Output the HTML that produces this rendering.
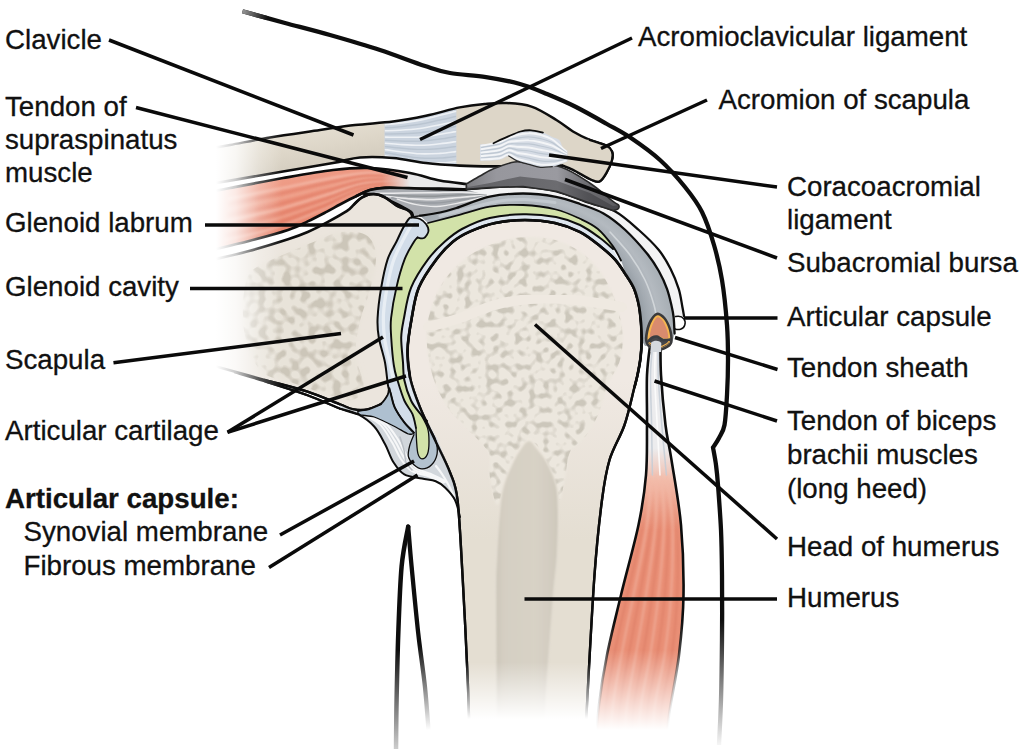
<!DOCTYPE html>
<html lang="en">
<head>
<meta charset="utf-8">
<title>Shoulder joint</title>
<style>
html,body{margin:0;padding:0;background:#fff;}
body{width:1024px;height:749px;overflow:hidden;position:relative;font-family:"Liberation Sans",Arial,Helvetica,sans-serif;}
svg{position:absolute;left:0;top:0;display:block;}
text{font-family:"Liberation Sans",Arial,Helvetica,sans-serif;font-size:27.7px;fill:#111;stroke:#111;stroke-width:0.3px;}
.b{font-weight:bold;}
.ld line{stroke:#0a0a0a;stroke-width:3.5;stroke-linecap:butt;}
</style>
</head>
<body>
<svg width="1024" height="749" viewBox="0 0 1024 749">
<defs>
<linearGradient id="fadeB" gradientUnits="userSpaceOnUse" x1="0" y1="662" x2="0" y2="719">
<stop offset="0" stop-color="#fff" stop-opacity="0"/><stop offset="1" stop-color="#fff" stop-opacity="1"/></linearGradient>
<linearGradient id="fadeB2" gradientUnits="userSpaceOnUse" x1="0" y1="650" x2="0" y2="730">
<stop offset="0" stop-color="#fff" stop-opacity="0"/><stop offset="1" stop-color="#fff" stop-opacity="1"/></linearGradient>
<linearGradient id="fadeL" gradientUnits="userSpaceOnUse" x1="216" y1="0" x2="282" y2="0">
<stop offset="0" stop-color="#fff" stop-opacity="1"/><stop offset="0.3" stop-color="#fff" stop-opacity="0.78"/><stop offset="0.65" stop-color="#fff" stop-opacity="0.3"/><stop offset="1" stop-color="#fff" stop-opacity="0"/></linearGradient>
<linearGradient id="skinG" gradientUnits="userSpaceOnUse" x1="242" y1="11" x2="268" y2="18">
<stop offset="0" stop-color="#999"/><stop offset="1" stop-color="#0d0d0d"/></linearGradient>
<linearGradient id="lineFade2" gradientUnits="userSpaceOnUse" x1="0" y1="620" x2="0" y2="750">
<stop offset="0" stop-color="#0d0d0d"/><stop offset="1" stop-color="#0d0d0d" stop-opacity="0"/></linearGradient>
<linearGradient id="medG" gradientUnits="userSpaceOnUse" x1="494" y1="0" x2="562" y2="0">
<stop offset="0" stop-color="#cbc5b8"/><stop offset="0.15" stop-color="#d5cfc3"/><stop offset="0.6" stop-color="#d8d2c6"/><stop offset="0.85" stop-color="#d2ccc0"/><stop offset="1" stop-color="#cac4b7"/></linearGradient>
<linearGradient id="musG" gradientUnits="userSpaceOnUse" x1="300" y1="170" x2="320" y2="235">
<stop offset="0" stop-color="#ef9f8a"/><stop offset="0.5" stop-color="#ea8e77"/><stop offset="1" stop-color="#e5826a"/></linearGradient>
<linearGradient id="bicG" gradientUnits="userSpaceOnUse" x1="0" y1="448" x2="0" y2="530">
<stop offset="0" stop-color="#ececee"/><stop offset="0.4" stop-color="#f2bba9"/><stop offset="1" stop-color="#e98f76"/></linearGradient>
<filter id="spg" x="0" y="0" width="100%" height="100%" color-interpolation-filters="sRGB">
<feTurbulence type="fractalNoise" baseFrequency="0.14" numOctaves="1" seed="11" result="n"/>
<feColorMatrix in="n" type="matrix" values="0 0 0 0 0.80  0 0 0 0 0.78  0 0 0 0 0.735  5.5 0 0 0 -2.7" result="b"/>
<feGaussianBlur in="b" stdDeviation="0.45"/>
<feComposite in2="SourceGraphic" operator="in"/>
</filter>
<filter id="spg2" x="0" y="0" width="100%" height="100%" color-interpolation-filters="sRGB">
<feTurbulence type="fractalNoise" baseFrequency="0.12" numOctaves="1" seed="3" result="n"/>
<feColorMatrix in="n" type="matrix" values="0 0 0 0 0.80  0 0 0 0 0.775  0 0 0 0 0.725  5.5 0 0 0 -2.5" result="b"/>
<feGaussianBlur in="b" stdDeviation="0.5"/>
<feComposite in2="SourceGraphic" operator="in"/>
</filter>
<linearGradient id="dkS" gradientUnits="userSpaceOnUse" x1="0" y1="490" x2="0" y2="550"><stop offset="0" stop-color="#d36f58" stop-opacity="0"/><stop offset="1" stop-color="#d36f58"/></linearGradient>
<linearGradient id="burL" gradientUnits="userSpaceOnUse" x1="466" y1="0" x2="618" y2="0"><stop offset="0" stop-color="#7c7c80"/><stop offset="0.2" stop-color="#97979d"/><stop offset="0.6" stop-color="#9a9aa0"/><stop offset="0.78" stop-color="#707074"/><stop offset="1" stop-color="#5a5a5e"/></linearGradient>
<linearGradient id="burD" gradientUnits="userSpaceOnUse" x1="466" y1="0" x2="618" y2="0"><stop offset="0" stop-color="#626266"/><stop offset="0.6" stop-color="#6c6c70"/><stop offset="0.8" stop-color="#525256"/><stop offset="1" stop-color="#48484c"/></linearGradient>
<linearGradient id="vL" gradientUnits="userSpaceOnUse" x1="0" y1="650" x2="0" y2="775"><stop offset="0" stop-color="#0d0d0d"/><stop offset="1" stop-color="#0d0d0d" stop-opacity="0"/></linearGradient>
<linearGradient id="vR" gradientUnits="userSpaceOnUse" x1="0" y1="645" x2="0" y2="730"><stop offset="0" stop-color="#0d0d0d"/><stop offset="1" stop-color="#0d0d0d" stop-opacity="0"/></linearGradient>
<filter id="blur05"><feGaussianBlur stdDeviation="0.5"/></filter>
<filter id="blur1"><feGaussianBlur stdDeviation="1.2"/></filter>
<filter id="blur2"><feGaussianBlur stdDeviation="2.5"/></filter>

<linearGradient id="clG" gradientUnits="userSpaceOnUse" x1="296" y1="130" x2="304" y2="172"><stop offset="0" stop-color="#e5dfd2"/><stop offset="0.5" stop-color="#ddd6c8"/><stop offset="1" stop-color="#d3ccbe"/></linearGradient>
<linearGradient id="mt" gradientUnits="userSpaceOnUse" x1="382" y1="0" x2="410" y2="0"><stop offset="0" stop-color="#ecdcd8" stop-opacity="0"/><stop offset="1" stop-color="#e9e9ea" stop-opacity="1"/></linearGradient>
<linearGradient id="humG" gradientUnits="userSpaceOnUse" x1="0" y1="380" x2="0" y2="540"><stop offset="0" stop-color="#f0e9e3"/><stop offset="1" stop-color="#e4ded2"/></linearGradient>
<radialGradient id="capG" gradientUnits="userSpaceOnUse" cx="524.5" cy="335" r="160"><stop offset="0.72" stop-color="#8f979e"/><stop offset="0.78" stop-color="#a3aab1"/><stop offset="0.85" stop-color="#b4bac0"/><stop offset="0.92" stop-color="#a9b0b6"/><stop offset="1" stop-color="#9da4ab"/></radialGradient>
</defs>
<rect width="1024" height="749" fill="#fff"/>
<path d="M210.0 148.5 C213.3 147.9 220.0 146.8 230.0 145.0 C240.0 143.2 255.0 139.9 270.0 137.4 C285.0 134.9 305.8 132.1 320.0 130.0 C334.2 127.9 342.8 126.4 355.0 125.0 C367.2 123.6 381.2 123.0 393.0 121.5 C404.8 120.0 414.9 118.0 426.0 115.7 C437.1 113.4 449.9 109.4 459.7 107.4 C469.5 105.5 476.9 104.7 484.6 104.0 C492.3 103.3 498.2 102.6 506.0 103.0 C513.8 103.4 523.1 103.8 531.5 106.6 C539.9 109.4 549.5 115.8 556.4 120.0 C563.3 124.2 567.5 128.2 573.0 131.5 C578.5 134.8 584.2 137.5 589.7 139.8 C595.2 142.2 602.6 143.7 606.3 145.6 C610.0 147.5 611.0 149.1 612.0 151.5 C613.0 153.9 613.0 156.4 612.0 160.0 C611.0 163.6 608.4 169.4 606.3 173.0 C604.2 176.6 602.1 180.3 599.6 181.4 C597.1 182.5 595.7 181.6 591.3 179.7 C586.9 177.8 577.7 172.0 573.0 169.7 C568.3 167.3 564.7 166.3 563.0 165.6 C563.0 165.6 568.5 165.5 563.0 165.6 C557.5 165.7 541.7 165.9 530.0 166.0 C518.3 166.1 504.7 166.5 493.0 166.4 C481.3 166.3 470.9 166.2 459.7 165.6 C448.5 165.0 437.1 164.3 426.0 163.0 C414.9 161.7 404.0 158.9 393.0 158.0 C382.0 157.1 370.0 156.7 360.0 157.5 C350.0 158.3 345.8 160.7 333.0 163.0 C320.2 165.3 300.2 168.6 283.0 171.5 C265.8 174.4 242.2 178.5 230.0 180.6 C217.8 182.7 213.3 183.4 210.0 184.0Z" fill="#ddd6c8"/>
<path d="M205.0 150.0 L210.0 148.5 L230.0 145.0 L270.0 137.4 L320.0 130.0 L355.0 125.0 L393.0 121.5 L385.0 122.5 L385.0 158.0 L393.0 158.0 L360.0 157.5 L333.0 163.0 L283.0 171.5 L230.0 180.6 L210.0 184.0 L205.0 186.0Z" fill="url(#clG)"/>
<path d="M384.5 122.6 L393.5 121.4 L417.0 117.3 L440.5 111.5 L456.4 107.9 L456.4 165.0 L440.5 164.3 L417.0 162.0 L393.5 158.5 L384.5 157.8Z" fill="#cbd4df" filter="url(#blur05)"/>
<path d="M385.5 124.6 C387.9 124.4 394.2 123.9 400.0 123.1 C405.8 122.4 413.3 121.4 420.0 120.1 C426.7 118.8 434.1 116.7 440.0 115.3 C445.9 113.9 452.9 112.2 455.5 111.5" fill="none" stroke="#f2f5f8" stroke-width="1.6" stroke-linejoin="round" stroke-linecap="round" opacity="0.9" filter="url(#blur05)"/>
<path d="M385.5 127.7 C387.9 127.6 394.2 127.2 400.0 126.7 C405.8 126.1 413.3 125.4 420.0 124.3 C426.7 123.2 434.1 121.3 440.0 120.1 C445.9 118.8 452.9 117.1 455.5 116.5" fill="none" stroke="#b9c4d0" stroke-width="1.5" stroke-linejoin="round" stroke-linecap="round" opacity="0.9" filter="url(#blur05)"/>
<path d="M385.5 130.8 C387.9 130.7 394.2 130.6 400.0 130.2 C405.8 129.9 413.3 129.4 420.0 128.5 C426.7 127.6 434.1 126.0 440.0 124.8 C445.9 123.6 452.9 122.1 455.5 121.5" fill="none" stroke="#f2f5f8" stroke-width="1.6" stroke-linejoin="round" stroke-linecap="round" opacity="0.9" filter="url(#blur05)"/>
<path d="M385.5 134.0 C387.9 133.9 394.2 134.0 400.0 133.8 C405.8 133.6 413.3 133.5 420.0 132.7 C426.7 132.0 434.1 130.6 440.0 129.6 C445.9 128.5 452.9 127.1 455.5 126.6" fill="none" stroke="#b9c4d0" stroke-width="1.5" stroke-linejoin="round" stroke-linecap="round" opacity="0.9" filter="url(#blur05)"/>
<path d="M385.5 137.1 C387.9 137.1 394.2 137.4 400.0 137.4 C405.8 137.4 413.3 137.5 420.0 137.0 C426.7 136.5 434.1 135.2 440.0 134.3 C445.9 133.4 452.9 132.0 455.5 131.6" fill="none" stroke="#f2f5f8" stroke-width="1.6" stroke-linejoin="round" stroke-linecap="round" opacity="0.9" filter="url(#blur05)"/>
<path d="M385.5 140.2 C387.9 140.3 394.2 140.8 400.0 141.0 C405.8 141.1 413.3 141.5 420.0 141.2 C426.7 140.9 434.1 139.9 440.0 139.1 C445.9 138.3 452.9 137.0 455.5 136.6" fill="none" stroke="#b9c4d0" stroke-width="1.5" stroke-linejoin="round" stroke-linecap="round" opacity="0.9" filter="url(#blur05)"/>
<path d="M385.5 143.3 C387.9 143.5 394.2 144.2 400.0 144.5 C405.8 144.9 413.3 145.5 420.0 145.4 C426.7 145.3 434.1 144.5 440.0 143.8 C445.9 143.2 452.9 142.0 455.5 141.6" fill="none" stroke="#f2f5f8" stroke-width="1.6" stroke-linejoin="round" stroke-linecap="round" opacity="0.9" filter="url(#blur05)"/>
<path d="M385.5 146.5 C387.9 146.7 394.2 147.6 400.0 148.1 C405.8 148.6 413.3 149.5 420.0 149.6 C426.7 149.7 434.1 149.1 440.0 148.6 C445.9 148.1 452.9 146.9 455.5 146.6" fill="none" stroke="#b9c4d0" stroke-width="1.5" stroke-linejoin="round" stroke-linecap="round" opacity="0.9" filter="url(#blur05)"/>
<path d="M385.5 149.6 C387.9 149.9 394.2 150.9 400.0 151.7 C405.8 152.4 413.3 153.6 420.0 153.8 C426.7 154.1 434.1 153.7 440.0 153.4 C445.9 153.0 452.9 151.9 455.5 151.6" fill="none" stroke="#f2f5f8" stroke-width="1.6" stroke-linejoin="round" stroke-linecap="round" opacity="0.9" filter="url(#blur05)"/>
<path d="M385.5 152.7 C387.9 153.1 394.2 154.3 400.0 155.2 C405.8 156.1 413.3 157.6 420.0 158.1 C426.7 158.5 434.1 158.4 440.0 158.1 C445.9 157.9 452.9 156.9 455.5 156.6" fill="none" stroke="#b9c4d0" stroke-width="1.5" stroke-linejoin="round" stroke-linecap="round" opacity="0.9" filter="url(#blur05)"/>
<path d="M385.5 155.8 C387.9 156.3 394.2 157.7 400.0 158.8 C405.8 159.9 413.3 161.6 420.0 162.3 C426.7 163.0 434.1 163.0 440.0 162.9 C445.9 162.8 452.9 161.8 455.5 161.6" fill="none" stroke="#f2f5f8" stroke-width="1.6" stroke-linejoin="round" stroke-linecap="round" opacity="0.9" filter="url(#blur05)"/>
<path d="M210.0 148.5 C213.3 147.9 220.0 146.8 230.0 145.0 C240.0 143.2 255.0 139.9 270.0 137.4 C285.0 134.9 305.8 132.1 320.0 130.0 C334.2 127.9 342.8 126.4 355.0 125.0 C367.2 123.6 381.2 123.0 393.0 121.5 C404.8 120.0 414.9 118.0 426.0 115.7 C437.1 113.4 449.9 109.4 459.7 107.4 C469.5 105.5 476.9 104.7 484.6 104.0 C492.3 103.3 498.2 102.6 506.0 103.0 C513.8 103.4 523.1 103.8 531.5 106.6 C539.9 109.4 549.5 115.8 556.4 120.0 C563.3 124.2 567.5 128.2 573.0 131.5 C578.5 134.8 584.2 137.5 589.7 139.8 C595.2 142.2 602.6 143.7 606.3 145.6 C610.0 147.5 611.0 149.1 612.0 151.5 C613.0 153.9 613.0 156.4 612.0 160.0 C611.0 163.6 608.4 169.4 606.3 173.0 C604.2 176.6 602.1 180.3 599.6 181.4 C597.1 182.5 595.7 181.6 591.3 179.7 C586.9 177.8 577.7 172.0 573.0 169.7 C568.3 167.3 564.7 166.3 563.0 165.6" fill="none" stroke="#0d0d0d" stroke-width="2.5" stroke-linejoin="round" stroke-linecap="round"/>
<path d="M210.0 184.0 C213.3 183.4 217.8 182.7 230.0 180.6 C242.2 178.5 265.8 174.4 283.0 171.5 C300.2 168.6 320.2 165.3 333.0 163.0 C345.8 160.7 350.0 158.3 360.0 157.5 C370.0 156.7 382.0 157.1 393.0 158.0 C404.0 158.9 414.9 161.7 426.0 163.0 C437.1 164.3 448.5 165.0 459.7 165.6 C470.9 166.2 481.3 166.3 493.0 166.4 C504.7 166.5 518.3 166.1 530.0 166.0 C541.7 165.9 557.5 165.7 563.0 165.6" fill="none" stroke="#0d0d0d" stroke-width="2.6" stroke-linejoin="round" stroke-linecap="round"/>
<path d="M212.0 191.5 C215.0 190.9 218.2 190.2 230.0 188.0 C241.8 185.8 265.8 181.0 283.0 178.0 C300.2 175.0 318.5 171.7 333.0 170.0 C347.5 168.3 357.2 167.5 370.0 168.0 C382.8 168.5 403.3 172.2 410.0 173.0 C410.0 175.7 414.2 186.5 410.0 189.0 C405.8 191.5 391.7 187.6 385.0 187.8 C378.3 188.0 374.8 188.6 370.0 190.0 C365.2 191.4 361.5 193.6 356.5 196.0 C351.5 198.4 344.9 201.9 340.0 204.5 C335.1 207.1 332.4 208.8 327.0 211.6 C321.6 214.4 314.2 218.3 307.7 221.4 C301.2 224.5 297.8 226.7 288.0 230.0 C278.2 233.3 261.7 237.7 249.0 241.0 C236.3 244.3 218.2 248.5 212.0 250.0Z" fill="url(#musG)"/>
<path d="M229.1 198.6 C237.7 196.9 263.7 191.8 280.7 188.4 C297.6 185.0 316.2 180.8 330.7 178.2 C345.1 175.6 356.0 173.6 367.6 173.0 C379.1 172.5 394.6 174.6 400.0 174.9" fill="none" stroke="#f4b9a8" stroke-width="3" stroke-linejoin="round" stroke-linecap="round" opacity="0.8" filter="url(#blur1)"/>
<path d="M228.2 209.2 C236.6 207.5 261.6 202.7 278.3 198.9 C295.0 195.1 313.9 189.8 328.3 186.4 C342.8 182.9 353.2 179.5 365.1 178.1 C377.1 176.6 394.2 177.8 400.0 177.8" fill="none" stroke="#f0a893" stroke-width="2.5" stroke-linejoin="round" stroke-linecap="round" opacity="0.8" filter="url(#blur1)"/>
<path d="M227.2 220.4 C235.3 218.7 259.4 214.1 275.9 209.9 C292.3 205.7 311.4 199.4 325.9 195.0 C340.3 190.6 350.2 185.8 362.6 183.4 C374.9 181.0 393.8 181.2 400.0 180.8" fill="none" stroke="#f3b5a3" stroke-width="3" stroke-linejoin="round" stroke-linecap="round" opacity="0.8" filter="url(#blur1)"/>
<path d="M226.4 230.5 C234.3 228.7 257.4 224.4 273.6 219.8 C289.8 215.1 309.2 208.0 323.6 202.8 C338.1 197.5 347.6 191.4 360.3 188.2 C373.0 185.0 393.4 184.3 400.0 183.5" fill="none" stroke="#efa38d" stroke-width="2.5" stroke-linejoin="round" stroke-linecap="round" opacity="0.8" filter="url(#blur1)"/>
<path d="M225.6 239.9 C233.3 238.1 255.6 234.0 271.6 229.0 C287.6 224.1 307.1 216.1 321.6 210.0 C336.0 204.0 345.0 196.6 358.1 192.6 C371.2 188.6 393.0 187.2 400.0 186.1" fill="none" stroke="#f2b09d" stroke-width="2" stroke-linejoin="round" stroke-linecap="round" opacity="0.8" filter="url(#blur1)"/>
<path d="M228.7 203.9 C237.1 202.2 262.7 197.3 279.5 193.7 C296.3 190.1 315.0 185.3 329.5 182.3 C344.0 179.3 354.6 176.6 366.4 175.6 C378.1 174.6 394.4 176.2 400.0 176.3" fill="none" stroke="#d9705a" stroke-width="2.0" stroke-linejoin="round" stroke-linecap="round" opacity="0.45" filter="url(#blur1)"/>
<path d="M227.7 215.1 C235.9 213.4 260.5 208.7 277.0 204.7 C293.6 200.6 312.6 194.9 327.0 190.9 C341.5 187.0 351.6 182.8 363.8 180.9 C376.0 179.0 394.0 179.6 400.0 179.4" fill="none" stroke="#d9705a" stroke-width="2.0" stroke-linejoin="round" stroke-linecap="round" opacity="0.45" filter="url(#blur1)"/>
<path d="M226.8 225.8 C234.8 224.0 258.4 219.6 274.7 215.1 C291.0 210.7 310.2 204.0 324.7 199.1 C339.1 194.3 348.8 188.7 361.4 185.9 C373.9 183.1 393.6 182.9 400.0 182.2" fill="none" stroke="#d9705a" stroke-width="2.0" stroke-linejoin="round" stroke-linecap="round" opacity="0.45" filter="url(#blur1)"/>
<path d="M226.0 235.2 C233.8 233.4 256.5 229.2 272.6 224.4 C288.7 219.6 308.2 212.1 322.6 206.4 C337.0 200.7 346.3 194.0 359.2 190.4 C372.1 186.8 393.2 185.7 400.0 184.8" fill="none" stroke="#d9705a" stroke-width="2.0" stroke-linejoin="round" stroke-linecap="round" opacity="0.45" filter="url(#blur1)"/>
<path d="M380.0 168.5 L410.0 173.0 L439.7 180.5 L466.3 184.0 L466.3 189.5 L440.0 188.5 L410.0 188.8 L385.0 188.0 L372.0 189.5Z" fill="url(#mt)"/>
<path d="M212.0 191.5 C215.0 190.9 218.2 190.2 230.0 188.0 C241.8 185.8 265.8 181.0 283.0 178.0 C300.2 175.0 318.5 171.7 333.0 170.0 C347.5 168.3 357.2 167.5 370.0 168.0 C382.8 168.5 398.4 170.9 410.0 173.0 C421.6 175.1 430.3 178.7 439.7 180.5 C449.1 182.3 461.9 183.4 466.3 184.0" fill="none" stroke="#0d0d0d" stroke-width="2.7" stroke-linejoin="round" stroke-linecap="round"/>
<path d="M466.3 189.6 C461.9 189.4 449.4 188.7 440.0 188.6 C430.6 188.5 419.2 189.1 410.0 189.0 C400.8 188.9 391.7 187.6 385.0 187.8 C378.3 188.0 374.8 188.6 370.0 190.0 C365.2 191.4 361.5 193.6 356.5 196.0 C351.5 198.4 344.9 201.9 340.0 204.5 C335.1 207.1 332.4 208.8 327.0 211.6 C321.6 214.4 314.2 218.3 307.7 221.4 C301.2 224.5 297.8 226.7 288.0 230.0 C278.2 233.3 261.7 237.7 249.0 241.0 C236.3 244.3 218.2 248.5 212.0 250.0" fill="none" stroke="#0d0d0d" stroke-width="2.7" stroke-linejoin="round" stroke-linecap="round"/>
<path d="M212.0 260.0 C218.2 258.5 236.3 254.4 249.0 251.0 C261.7 247.6 278.2 242.5 288.0 239.3 C297.8 236.1 301.2 234.8 307.7 232.0 C314.2 229.2 320.5 225.9 327.0 222.4 C333.5 218.9 342.2 214.2 346.7 211.2 C351.2 208.2 351.5 206.8 354.0 204.5 C356.5 202.2 358.5 199.3 361.8 197.6 C365.0 195.8 369.6 194.0 373.5 194.0 C377.4 194.0 381.3 195.6 385.2 197.6 C389.2 199.6 393.5 203.8 397.0 205.8 C400.5 207.8 404.1 208.2 406.4 209.4 C408.7 210.6 410.0 211.7 411.0 212.9 C412.0 214.1 412.1 215.8 412.3 216.4 C411.7 216.8 410.4 216.7 408.8 218.8 C407.1 220.8 404.6 225.2 402.5 229.0 C400.4 232.8 398.9 236.7 396.4 241.8 C393.9 246.8 390.1 251.8 387.6 259.4 C385.1 267.0 382.9 277.8 381.2 287.6 C379.5 297.4 378.0 309.7 377.6 318.0 C377.2 326.3 377.5 330.1 378.8 337.5 C380.0 344.9 383.5 354.5 385.0 362.5 C386.5 370.5 387.3 380.9 388.0 385.5 C388.7 390.1 388.8 389.2 389.0 390.0 C388.8 390.8 389.2 392.7 387.9 395.0 C386.6 397.3 384.4 401.6 381.0 404.0 C377.6 406.4 371.9 408.5 367.4 409.4 C362.8 410.3 358.3 410.2 353.7 409.4 C349.1 408.5 347.5 407.3 339.8 404.3 C332.1 401.3 320.1 395.7 307.5 391.6 C294.9 387.5 278.8 383.7 264.5 379.8 C250.2 375.9 230.2 370.4 221.5 368.0 C212.8 365.6 213.6 365.9 212.0 365.5Z" fill="#ebe5dd"/>
<path d="M248.0 276.0 C250.7 269.5 252.8 269.7 259.0 266.0 C265.2 262.3 275.9 258.0 285.0 254.0 C294.1 250.0 304.2 245.7 313.5 242.0 C322.8 238.3 331.9 233.2 340.7 232.0 C349.4 230.8 360.1 231.2 366.0 235.0 C371.9 238.8 375.3 245.8 376.0 255.0 C376.7 264.2 372.7 279.0 370.0 290.0 C367.3 301.0 362.4 310.0 360.0 320.8 C357.6 331.6 354.9 344.2 355.5 354.9 C356.1 365.6 364.1 377.5 363.5 385.0 C362.9 392.5 359.2 398.8 352.0 400.0 C344.8 401.2 330.3 395.0 320.0 392.0 C309.7 389.0 299.7 385.3 290.0 382.0 C280.3 378.7 269.3 379.0 262.0 372.0 C254.7 365.0 249.2 351.2 246.0 340.0 C242.8 328.8 242.7 315.7 243.0 305.0 C243.3 294.3 245.3 282.5 248.0 276.0Z" fill="#e8e3d9" filter="url(#blur2)"/>
<path d="M248.0 276.0 C250.7 269.5 252.8 269.7 259.0 266.0 C265.2 262.3 275.9 258.0 285.0 254.0 C294.1 250.0 304.2 245.7 313.5 242.0 C322.8 238.3 331.9 233.2 340.7 232.0 C349.4 230.8 360.1 231.2 366.0 235.0 C371.9 238.8 375.3 245.8 376.0 255.0 C376.7 264.2 372.7 279.0 370.0 290.0 C367.3 301.0 362.4 310.0 360.0 320.8 C357.6 331.6 354.9 344.2 355.5 354.9 C356.1 365.6 364.1 377.5 363.5 385.0 C362.9 392.5 359.2 398.8 352.0 400.0 C344.8 401.2 330.3 395.0 320.0 392.0 C309.7 389.0 299.7 385.3 290.0 382.0 C280.3 378.7 269.3 379.0 262.0 372.0 C254.7 365.0 249.2 351.2 246.0 340.0 C242.8 328.8 242.7 315.7 243.0 305.0 C243.3 294.3 245.3 282.5 248.0 276.0Z" fill="#000" filter="url(#spg2)"/>
<path d="M212.0 260.0 C218.2 258.5 236.3 254.4 249.0 251.0 C261.7 247.6 278.2 242.5 288.0 239.3 C297.8 236.1 301.2 234.8 307.7 232.0 C314.2 229.2 320.5 225.9 327.0 222.4 C333.5 218.9 342.2 214.2 346.7 211.2 C351.2 208.2 351.5 206.8 354.0 204.5 C356.5 202.2 358.5 199.3 361.8 197.6 C365.0 195.8 369.6 194.0 373.5 194.0 C377.4 194.0 381.3 195.6 385.2 197.6 C389.2 199.6 393.5 203.8 397.0 205.8 C400.5 207.8 404.1 208.2 406.4 209.4 C408.7 210.6 410.0 211.7 411.0 212.9 C412.0 214.1 412.1 215.8 412.3 216.4" fill="none" stroke="#0d0d0d" stroke-width="2.7" stroke-linejoin="round" stroke-linecap="round"/>
<path d="M389.0 390.0 C388.8 390.8 389.2 392.7 387.9 395.0 C386.6 397.3 384.4 401.6 381.0 404.0 C377.6 406.4 371.9 408.5 367.4 409.4 C362.8 410.3 358.3 410.2 353.7 409.4 C349.1 408.5 347.5 407.3 339.8 404.3 C332.1 401.3 320.1 395.7 307.5 391.6 C294.9 387.5 278.8 383.7 264.5 379.8 C250.2 375.9 230.2 370.4 221.5 368.0 C212.8 365.6 213.6 365.9 212.0 365.5" fill="none" stroke="#0d0d0d" stroke-width="2.4" stroke-linejoin="round" stroke-linecap="round"/>
<path d="M235.0 372.5 C239.9 374.0 252.4 377.5 264.5 381.3 C276.6 385.1 294.9 390.8 307.5 395.3 C320.1 399.9 334.4 406.4 339.8 408.6" fill="none" stroke="#0d0d0d" stroke-width="2.2" stroke-linejoin="round" stroke-linecap="round"/>
<path d="M470.0 752.0 C469.6 739.2 468.8 704.5 467.5 675.0 C466.2 645.5 464.2 604.2 462.5 575.0 C460.8 545.8 459.6 517.1 457.5 500.0 C455.4 482.9 453.8 482.5 450.0 472.5 C446.2 462.5 440.0 450.8 435.0 440.0 C430.0 429.2 424.2 417.9 420.0 407.5 C415.8 397.1 412.1 387.1 410.0 377.5 C407.9 367.9 407.2 359.9 407.5 350.0 C407.8 340.1 409.8 328.4 411.7 318.0 C413.6 307.6 414.7 297.4 418.8 287.6 C422.9 277.8 430.7 267.0 436.4 259.4 C442.1 251.8 447.2 246.4 452.8 241.8 C458.4 237.1 463.0 234.6 470.0 231.5 C477.0 228.4 485.8 224.9 495.0 223.0 C504.2 221.1 515.0 220.0 525.0 220.0 C535.0 220.0 545.8 221.0 555.0 223.0 C564.2 225.0 572.5 228.2 580.0 232.0 C587.5 235.8 594.2 241.4 600.0 246.0 C605.8 250.6 610.7 254.7 615.0 259.5 C619.3 264.3 622.8 270.2 626.0 275.0 C629.2 279.8 631.9 283.5 634.0 288.5 C636.1 293.5 637.6 299.2 638.8 305.0 C640.0 310.8 640.5 317.1 641.0 323.0 C641.5 328.9 641.8 334.7 641.7 340.5 C641.6 346.3 641.2 352.2 640.5 358.0 C639.8 363.8 638.5 370.2 637.5 375.0 C636.5 379.8 636.7 378.7 634.5 387.0 C632.3 395.3 628.7 412.8 624.5 425.0 C620.3 437.2 613.2 447.5 609.5 460.0 C605.8 472.5 604.5 480.8 602.0 500.0 C599.5 519.2 597.0 540.8 594.5 575.0 C592.0 609.2 588.6 675.5 587.0 705.0 C585.4 734.5 585.3 744.2 585.0 752.0Z" fill="url(#humG)"/>
<path d="M497.0 505.0 C494.7 503.8 491.5 486.8 490.0 478.0 C488.5 469.2 491.8 460.2 488.0 452.0 C484.2 443.8 473.7 436.3 467.0 429.0 C460.3 421.7 453.5 416.2 448.0 408.0 C442.5 399.8 437.5 390.5 434.0 380.0 C430.5 369.5 427.7 356.3 427.0 345.0 C426.3 333.7 426.8 323.2 430.0 312.0 C433.2 300.8 438.5 288.0 446.0 278.0 C453.5 268.0 463.5 258.7 475.0 252.0 C486.5 245.3 501.7 240.0 515.0 238.0 C528.3 236.0 542.8 236.7 555.0 240.0 C567.2 243.3 578.8 250.0 588.0 258.0 C597.2 266.0 604.3 276.3 610.0 288.0 C615.7 299.7 620.3 316.0 622.0 328.0 C623.7 340.0 622.4 350.5 620.0 360.0 C617.6 369.5 611.2 375.8 607.5 385.0 C603.8 394.2 601.9 406.1 598.0 415.0 C594.1 423.9 588.7 432.4 584.0 438.6 C579.3 444.8 573.2 445.4 570.0 452.0 C566.8 458.6 566.7 470.0 565.0 478.0 C563.3 486.0 561.5 498.8 560.0 500.0 C558.5 501.2 558.2 491.3 556.0 485.0 C553.8 478.7 549.5 468.3 546.5 462.0 C543.5 455.7 540.9 450.5 538.0 447.0 C535.1 443.5 532.0 441.0 529.0 441.0 C526.0 441.0 522.5 443.5 520.0 447.0 C517.5 450.5 516.7 455.6 514.0 462.0 C511.3 468.4 506.8 478.3 504.0 485.5 C501.2 492.7 499.3 506.2 497.0 505.0Z" fill="#ece7de" filter="url(#blur1)"/>
<path d="M497.0 505.0 C494.7 503.8 491.5 486.8 490.0 478.0 C488.5 469.2 491.8 460.2 488.0 452.0 C484.2 443.8 473.7 436.3 467.0 429.0 C460.3 421.7 453.5 416.2 448.0 408.0 C442.5 399.8 437.5 390.5 434.0 380.0 C430.5 369.5 427.7 356.3 427.0 345.0 C426.3 333.7 426.8 323.2 430.0 312.0 C433.2 300.8 438.5 288.0 446.0 278.0 C453.5 268.0 463.5 258.7 475.0 252.0 C486.5 245.3 501.7 240.0 515.0 238.0 C528.3 236.0 542.8 236.7 555.0 240.0 C567.2 243.3 578.8 250.0 588.0 258.0 C597.2 266.0 604.3 276.3 610.0 288.0 C615.7 299.7 620.3 316.0 622.0 328.0 C623.7 340.0 622.4 350.5 620.0 360.0 C617.6 369.5 611.2 375.8 607.5 385.0 C603.8 394.2 601.9 406.1 598.0 415.0 C594.1 423.9 588.7 432.4 584.0 438.6 C579.3 444.8 573.2 445.4 570.0 452.0 C566.8 458.6 566.7 470.0 565.0 478.0 C563.3 486.0 561.5 498.8 560.0 500.0 C558.5 501.2 558.2 491.3 556.0 485.0 C553.8 478.7 549.5 468.3 546.5 462.0 C543.5 455.7 540.9 450.5 538.0 447.0 C535.1 443.5 532.0 441.0 529.0 441.0 C526.0 441.0 522.5 443.5 520.0 447.0 C517.5 450.5 516.7 455.6 514.0 462.0 C511.3 468.4 506.8 478.3 504.0 485.5 C501.2 492.7 499.3 506.2 497.0 505.0Z" fill="#000" filter="url(#spg)"/>
<path d="M428.0 327.0 C433.3 325.5 448.8 321.7 460.0 318.0 C471.2 314.3 483.3 308.2 495.0 305.0 C506.7 301.8 516.7 299.8 530.0 299.0 C543.3 298.2 559.7 298.7 575.0 300.0 C590.3 301.3 614.2 305.8 622.0 307.0" fill="none" stroke="#efe9e1" stroke-width="10" stroke-linejoin="round" stroke-linecap="round" filter="url(#blur05)"/>
<path d="M497.0 752.0 C496.8 726.7 496.0 632.8 496.0 600.0 C496.0 567.2 496.3 569.8 497.0 555.0 C497.7 540.2 498.8 522.6 500.0 511.0 C501.2 499.4 501.8 493.5 504.0 485.5 C506.2 477.5 510.2 469.1 513.0 463.0 C515.8 456.9 518.3 452.7 521.0 449.0 C523.7 445.3 526.3 441.0 529.0 441.0 C531.7 441.0 534.0 445.3 537.0 449.0 C540.0 452.7 543.8 456.9 547.0 463.0 C550.2 469.1 554.2 477.5 556.0 485.5 C557.8 493.5 557.8 499.4 558.0 511.0 C558.2 522.6 557.8 540.2 557.0 555.0 C556.2 569.8 554.8 575.8 553.0 600.0 C551.2 624.2 547.3 674.7 546.0 700.0 C544.7 725.3 545.2 743.3 545.0 752.0Z" fill="#efe9e0" filter="url(#blur1)" transform="translate(0,-2.5)"/>
<path d="M497.0 752.0 C496.8 726.7 496.0 632.8 496.0 600.0 C496.0 567.2 496.3 569.8 497.0 555.0 C497.7 540.2 498.8 522.6 500.0 511.0 C501.2 499.4 501.8 493.5 504.0 485.5 C506.2 477.5 510.2 469.1 513.0 463.0 C515.8 456.9 518.3 452.7 521.0 449.0 C523.7 445.3 526.3 441.0 529.0 441.0 C531.7 441.0 534.0 445.3 537.0 449.0 C540.0 452.7 543.8 456.9 547.0 463.0 C550.2 469.1 554.2 477.5 556.0 485.5 C557.8 493.5 557.8 499.4 558.0 511.0 C558.2 522.6 557.8 540.2 557.0 555.0 C556.2 569.8 554.8 575.8 553.0 600.0 C551.2 624.2 547.3 674.7 546.0 700.0 C544.7 725.3 545.2 743.3 545.0 752.0Z" fill="url(#medG)" filter="url(#blur1)"/>
<path d="M470.0 752.0 C469.6 739.2 468.8 704.5 467.5 675.0 C466.2 645.5 464.2 604.2 462.5 575.0 C460.8 545.8 459.6 517.1 457.5 500.0 C455.4 482.9 453.8 482.5 450.0 472.5 C446.2 462.5 440.0 450.8 435.0 440.0 C430.0 429.2 424.2 417.9 420.0 407.5 C415.8 397.1 412.1 387.1 410.0 377.5 C407.9 367.9 407.2 359.9 407.5 350.0 C407.8 340.1 409.8 328.4 411.7 318.0 C413.6 307.6 414.7 297.4 418.8 287.6 C422.9 277.8 430.7 267.0 436.4 259.4 C442.1 251.8 447.2 246.4 452.8 241.8 C458.4 237.1 463.0 234.6 470.0 231.5 C477.0 228.4 485.8 224.9 495.0 223.0 C504.2 221.1 515.0 220.0 525.0 220.0 C535.0 220.0 545.8 221.0 555.0 223.0 C564.2 225.0 572.5 228.2 580.0 232.0 C587.5 235.8 594.2 241.4 600.0 246.0 C605.8 250.6 610.7 254.7 615.0 259.5 C619.3 264.3 622.8 270.2 626.0 275.0 C629.2 279.8 631.9 283.5 634.0 288.5 C636.1 293.5 637.6 299.2 638.8 305.0 C640.0 310.8 640.5 317.1 641.0 323.0 C641.5 328.9 641.8 334.7 641.7 340.5 C641.6 346.3 641.2 352.2 640.5 358.0 C639.8 363.8 638.5 370.2 637.5 375.0 C636.5 379.8 636.7 378.7 634.5 387.0 C632.3 395.3 628.7 412.8 624.5 425.0 C620.3 437.2 613.2 447.5 609.5 460.0 C605.8 472.5 604.5 480.8 602.0 500.0 C599.5 519.2 597.0 540.8 594.5 575.0 C592.0 609.2 588.6 675.5 587.0 705.0 C585.4 734.5 585.3 744.2 585.0 752.0" fill="none" stroke="#0d0d0d" stroke-width="2.4" stroke-linejoin="round" stroke-linecap="round"/>
<path d="M427.0 421.0 C425.9 419.9 423.4 417.6 420.7 414.2 C418.0 410.8 413.7 406.2 411.0 400.5 C408.3 394.8 405.6 386.3 404.3 380.0 C403.0 373.7 403.5 369.6 403.0 362.5 C402.5 355.4 401.1 344.9 401.2 337.5 C401.4 330.1 402.4 326.3 404.0 318.0 C405.6 309.7 407.1 297.4 411.1 287.6 C415.1 277.8 422.4 267.0 428.0 259.4 C433.6 251.8 438.9 246.8 444.6 241.8 C450.3 236.7 454.5 233.0 462.0 229.0 C469.5 225.0 479.5 220.4 489.7 218.0 C499.9 215.6 511.9 214.5 523.0 214.3 C534.0 214.1 546.5 215.2 556.0 217.0 C565.5 218.8 572.7 221.5 580.0 225.0 C587.3 228.5 594.5 234.0 600.0 238.0 C605.5 242.0 610.8 247.2 613.0 249.0 L626.0 275.0 L615.0 259.5 L600.0 246.0 L580.0 232.0 L555.0 223.0 L525.0 220.0 L495.0 223.0 L470.0 231.5 L452.8 241.8 L436.4 259.4 L418.8 287.6 L411.7 318.0 L407.5 350.0 L410.0 377.5 L420 407.5Z" fill="#dfe7f0"/>
<path d="M417.5 237.5 C416.9 238.2 416.1 238.1 414.0 241.8 C411.9 245.4 407.5 251.8 404.6 259.4 C401.7 267.0 398.6 277.8 396.4 287.6 C394.1 297.4 392.0 309.7 391.1 318.0 C390.2 326.3 390.8 329.7 391.2 337.5 C391.7 345.3 392.7 357.9 393.8 365.0 C394.8 372.1 395.6 374.1 397.4 380.0 C399.2 385.9 401.8 394.8 404.3 400.5 C406.8 406.2 410.6 409.6 412.5 414.2 C414.4 418.8 415.4 425.6 416.0 427.9 C416.1 430.2 416.3 437.2 416.6 441.5 C416.9 445.8 417.1 451.0 418.0 453.9 C418.9 456.8 420.4 458.8 422.0 458.8 C423.6 458.8 426.3 456.8 427.5 453.9 C428.7 451.0 429.0 445.8 429.0 441.5 C429.0 437.2 428.9 432.4 427.5 427.9 C426.1 423.3 421.8 416.5 420.7 414.2 C419.1 411.9 413.7 406.2 411.0 400.5 C408.3 394.8 405.6 386.3 404.3 380.0 C403.0 373.7 403.5 369.6 403.0 362.5 C402.5 355.4 401.1 344.9 401.2 337.5 C401.4 330.1 402.4 326.3 404.0 318.0 C405.6 309.7 407.1 297.4 411.1 287.6 C415.1 277.8 422.4 267.0 428.0 259.4 C433.6 251.8 438.9 246.8 444.6 241.8 C450.3 236.7 454.5 233.0 462.0 229.0 C469.5 225.0 479.5 220.4 489.7 218.0 C499.9 215.6 511.9 214.5 523.0 214.3 C534.0 214.1 546.5 215.2 556.0 217.0 C565.5 218.8 572.7 221.5 580.0 225.0 C587.3 228.5 594.5 234.0 600.0 238.0 C605.5 242.0 610.8 247.2 613.0 249.0 C613.0 248.6 615.6 249.8 613.0 246.4 C610.4 243.0 603.1 233.4 597.6 228.8 C592.1 224.2 586.9 222.0 580.0 218.8 C573.1 215.6 565.5 211.8 556.0 209.5 C546.5 207.2 534.0 205.5 523.0 205.0 C511.9 204.5 500.8 204.8 489.7 206.6 C478.6 208.4 466.7 213.0 456.4 215.7 C446.1 218.4 432.7 221.8 428.0 223.0 C427.2 225.2 424.8 233.6 423.0 236.0 C421.2 238.4 418.4 237.2 417.5 237.5Z" fill="#d2e2a9"/>
<path d="M411.6 217.4 C411.1 217.6 410.3 216.8 408.8 218.8 C407.2 220.7 404.6 225.2 402.5 229.0 C400.4 232.8 398.9 236.7 396.4 241.8 C393.9 246.8 390.1 251.8 387.6 259.4 C385.1 267.0 382.9 277.8 381.2 287.6 C379.5 297.4 378.0 309.7 377.6 318.0 C377.2 326.3 377.5 330.1 378.8 337.5 C380.0 344.9 383.5 354.5 385.0 362.5 C386.5 370.5 387.1 380.4 388.0 385.5 C388.9 390.6 389.5 389.4 390.6 393.0 C391.7 396.6 392.4 402.5 394.7 407.4 C397.0 412.3 401.1 418.2 404.3 422.4 C407.5 426.6 412.3 431.0 413.9 432.7 L416.0 427.9 L412.5 414.2 L404.3 400.5 L397.4 380.0 L393.8 365.0 L391.2 337.5 L391.1 318.0 L396.4 287.6 L404.6 259.4 L414.0 241.8 L417.5 237.5 C418.6 237.6 422.2 239.1 424.0 238.0 C425.8 236.9 428.2 233.3 428.5 231.0 C428.8 228.7 427.4 226.0 426.0 224.0 C424.6 222.0 422.4 220.1 420.0 219.0 C417.6 217.9 413.0 217.7 411.6 217.4Z" fill="#d2dde9"/>
<path d="M412.0 224.0 C410.3 227.0 405.2 235.7 402.0 242.0 C398.8 248.3 395.5 254.3 393.0 262.0 C390.5 269.7 388.6 279.3 387.0 288.0 C385.4 296.7 383.9 305.7 383.5 314.0 C383.1 322.3 383.5 330.0 384.5 338.0 C385.5 346.0 388.0 355.0 389.5 362.0 C391.0 369.0 392.8 377.0 393.5 380.0" fill="none" stroke="#edf2f7" stroke-width="3.2" stroke-linejoin="round" stroke-linecap="round" opacity="0.85" filter="url(#blur05)"/>
<path d="M339.8 408.6 C342.8 409.5 352.1 411.2 357.8 414.2 C363.5 417.2 369.6 421.5 374.2 426.5 C378.8 431.5 381.9 438.4 385.1 444.3 C388.3 450.2 390.1 457.0 393.3 462.0 C396.5 467.0 399.5 471.6 404.3 474.4 C409.1 477.1 416.8 477.4 422.0 478.5 C427.2 479.6 431.9 479.7 435.7 481.2 C439.5 482.7 441.8 484.4 445.0 487.5 C448.2 490.6 452.5 495.1 455.0 500.0 C457.5 504.9 459.2 514.2 460.0 517.0 L457.5 500 L450.5 472.5 L437.7 440 L427.5 421 L413.9 432.7 L394.7 426.5 L374.2 417 L357.8 411.5 L340 404Z" fill="#d2d7dc"/>
<path d="M363.6 414.7 C366.3 416.3 375.2 419.8 380.0 424.4 C384.8 429.0 388.7 436.8 392.2 442.6 C395.7 448.4 397.8 454.5 401.0 459.2 C404.2 463.9 407.2 468.1 411.6 470.8 C416.0 473.6 421.9 473.7 427.2 475.7 C432.5 477.7 440.5 481.5 443.2 482.6" fill="none" stroke="#f6f7f8" stroke-width="2.0" stroke-linejoin="round" stroke-linecap="round"/>
<path d="M365.6 414.9 C368.4 416.4 377.6 419.3 382.5 423.6 C387.4 428.0 391.4 435.3 394.9 440.9 C398.4 446.4 400.4 452.2 403.5 456.9 C406.6 461.7 409.4 466.3 413.6 469.3 C417.8 472.3 423.5 472.6 428.7 474.7 C433.9 476.8 442.0 480.9 444.7 482.1" fill="none" stroke="#f6f7f8" stroke-width="2.0" stroke-linejoin="round" stroke-linecap="round"/>
<path d="M367.6 415.2 C370.5 416.5 380.0 418.9 385.0 422.9 C390.0 426.9 394.2 433.8 397.7 439.1 C401.2 444.4 403.0 449.9 406.0 454.7 C409.0 459.5 411.6 464.6 415.6 467.8 C419.6 471.0 425.1 471.4 430.2 473.7 C435.3 476.0 443.5 480.3 446.2 481.6" fill="none" stroke="#f6f7f8" stroke-width="2.0" stroke-linejoin="round" stroke-linecap="round"/>
<path d="M436.0 466.0 C437.0 467.3 440.0 471.0 442.0 474.0 C444.0 477.0 446.0 480.3 448.0 484.0 C450.0 487.7 453.0 494.0 454.0 496.0" fill="none" stroke="#f6f7f8" stroke-width="2.2" stroke-linejoin="round" stroke-linecap="round"/>
<path d="M400.0 437.0 C400.7 439.2 403.0 445.8 404.0 450.0 C405.0 454.2 404.7 458.7 406.0 462.0 C407.3 465.3 411.0 468.7 412.0 470.0" fill="none" stroke="#b9bec4" stroke-width="1.5" stroke-linejoin="round" stroke-linecap="round"/>
<path d="M357.8 411.5 C358.5 410.9 365.1 410.1 367.4 409.4 C369.7 408.6 378.9 405.4 381.0 404.0 C383.1 402.6 387.0 396.6 387.9 395.0 C388.8 393.4 389.2 388.2 389.5 388.0 C389.8 387.8 390.1 391.1 390.6 393.0 C391.1 394.9 393.3 404.5 394.7 407.4 C396.1 410.3 402.4 419.9 404.3 422.4 C406.2 424.9 413.5 431.5 413.9 432.7 C414.3 433.9 410.3 434.6 408.4 434.0 C406.5 433.4 398.1 428.2 394.7 426.5 C391.3 424.8 377.6 418.2 374.2 417.0 C370.8 415.8 362.1 415.4 360.5 414.9 C358.9 414.3 357.1 412.1 357.8 411.5Z" fill="#aec0d0" stroke="#0d0d0d" stroke-width="1.3" stroke-linejoin="round" stroke-linecap="round"/>
<path d="M413.9 434.7 C413.2 436.5 410.6 442.0 409.7 445.6 C408.8 449.2 407.7 453.4 408.4 456.6 C409.1 459.8 411.6 462.8 413.9 464.8 C416.2 466.9 419.1 468.9 422.0 468.9 C424.9 468.9 429.1 467.3 431.6 464.8 C434.1 462.3 436.4 458.0 437.1 453.9 C437.8 449.8 436.8 444.3 435.7 440.2 C434.6 436.1 432.1 432.7 430.3 429.2 C428.5 425.7 425.9 420.7 425.0 419.0 L416 427.9Z" fill="#b3c2cf"/>
<path d="M413.9 434.7 C413.2 436.5 410.6 442.0 409.7 445.6 C408.8 449.2 407.7 453.4 408.4 456.6 C409.1 459.8 411.6 462.8 413.9 464.8 C416.2 466.9 419.1 468.9 422.0 468.9 C424.9 468.9 429.1 467.3 431.6 464.8 C434.1 462.3 436.4 458.0 437.1 453.9 C437.8 449.8 436.8 444.3 435.7 440.2 C434.6 436.1 432.1 432.7 430.3 429.2 C428.5 425.7 425.9 420.7 425.0 419.0" fill="none" stroke="#0d0d0d" stroke-width="1.3" stroke-linejoin="round" stroke-linecap="round"/>
<path d="M416.0 427.9 C416.1 430.2 416.3 437.2 416.6 441.5 C416.9 445.8 417.1 451.0 418.0 453.9 C418.9 456.8 420.4 458.8 422.0 458.8 C423.6 458.8 426.3 456.8 427.5 453.9 C428.7 451.0 429.0 445.8 429.0 441.5 C429.0 437.2 428.9 432.4 427.5 427.9 C426.1 423.3 421.8 416.5 420.7 414.2Z" fill="#d2e2a9"/>
<path d="M416.0 427.9 C416.1 430.2 416.3 437.2 416.6 441.5 C416.9 445.8 417.1 451.0 418.0 453.9 C418.9 456.8 420.4 458.8 422.0 458.8 C423.6 458.8 426.3 456.8 427.5 453.9 C428.7 451.0 429.0 445.8 429.0 441.5 C429.0 437.2 428.9 432.4 427.5 427.9 C426.1 423.3 421.8 416.5 420.7 414.2" fill="none" stroke="#0d0d0d" stroke-width="1.3" stroke-linejoin="round" stroke-linecap="round"/>
<path d="M339.8 408.6 C342.8 409.5 352.1 411.2 357.8 414.2 C363.5 417.2 369.6 421.5 374.2 426.5 C378.8 431.5 381.9 438.4 385.1 444.3 C388.3 450.2 390.1 457.0 393.3 462.0 C396.5 467.0 399.5 471.6 404.3 474.4 C409.1 477.1 416.8 477.4 422.0 478.5 C427.2 479.6 431.9 479.7 435.7 481.2 C439.5 482.7 441.8 484.4 445.0 487.5 C448.2 490.6 452.5 495.1 455.0 500.0 C457.5 504.9 459.2 514.2 460.0 517.0" fill="none" stroke="#0d0d0d" stroke-width="2.0" stroke-linejoin="round" stroke-linecap="round"/>
<path d="M381.0 404.0 C378.7 404.9 371.9 408.5 367.4 409.4 C362.8 410.3 358.3 410.2 353.7 409.4 C349.1 408.5 347.5 407.3 339.8 404.3 C332.1 401.3 320.1 395.7 307.5 391.6 C294.9 387.5 271.7 381.8 264.5 379.8" fill="none" stroke="#0d0d0d" stroke-width="2.3" stroke-linejoin="round" stroke-linecap="round"/>
<path d="M264.5 381.3 C271.7 383.6 294.9 390.8 307.5 395.3 C320.1 399.9 331.4 405.5 339.8 408.6 C348.2 411.8 354.8 413.3 357.8 414.2" fill="none" stroke="#0d0d0d" stroke-width="2.0" stroke-linejoin="round" stroke-linecap="round"/>
<path d="M470.0 752.0 C469.6 739.2 468.8 704.5 467.5 675.0 C466.2 645.5 464.2 604.2 462.5 575.0 C460.8 545.8 459.6 517.1 457.5 500.0 C455.4 482.9 453.8 482.5 450.0 472.5 C446.2 462.5 440.0 450.8 435.0 440.0 C430.0 429.2 424.2 417.9 420.0 407.5 C415.8 397.1 412.1 387.1 410.0 377.5 C407.9 367.9 407.2 359.9 407.5 350.0 C407.8 340.1 409.8 328.4 411.7 318.0 C413.6 307.6 414.7 297.4 418.8 287.6 C422.9 277.8 430.7 267.0 436.4 259.4 C442.1 251.8 447.2 246.4 452.8 241.8 C458.4 237.1 463.0 234.6 470.0 231.5 C477.0 228.4 485.8 224.9 495.0 223.0 C504.2 221.1 515.0 220.0 525.0 220.0 C535.0 220.0 545.8 221.0 555.0 223.0 C564.2 225.0 572.5 228.2 580.0 232.0 C587.5 235.8 594.2 241.4 600.0 246.0 C605.8 250.6 610.7 254.7 615.0 259.5 C619.3 264.3 622.8 270.2 626.0 275.0 C629.2 279.8 631.9 283.5 634.0 288.5 C636.1 293.5 637.6 299.2 638.8 305.0 C640.0 310.8 640.5 317.1 641.0 323.0 C641.5 328.9 641.8 334.7 641.7 340.5 C641.6 346.3 641.2 352.2 640.5 358.0 C639.8 363.8 638.5 370.2 637.5 375.0 C636.5 379.8 636.7 378.7 634.5 387.0 C632.3 395.3 628.7 412.8 624.5 425.0 C620.3 437.2 613.2 447.5 609.5 460.0 C605.8 472.5 604.5 480.8 602.0 500.0 C599.5 519.2 597.0 540.8 594.5 575.0 C592.0 609.2 588.6 675.5 587.0 705.0 C585.4 734.5 585.3 744.2 585.0 752.0" fill="none" stroke="#0d0d0d" stroke-width="2.4" stroke-linejoin="round" stroke-linecap="round"/>
<path d="M420.0 215.7 C423.3 215.2 433.9 213.8 440.0 212.5 C446.1 211.2 448.1 210.7 456.4 208.0 C464.7 205.3 478.6 199.0 489.7 196.6 C500.8 194.2 511.9 193.5 523.0 193.5 C534.0 193.5 546.5 195.1 556.0 196.8 C565.5 198.6 572.1 201.2 580.0 204.0 C587.9 206.8 596.0 209.2 603.5 213.5 C611.0 217.8 618.0 223.3 625.3 230.0 C632.5 236.7 641.4 246.7 647.0 253.5 C652.6 260.3 655.5 265.1 658.8 271.0 C662.1 276.9 664.9 282.9 667.0 288.8 C669.1 294.6 670.6 301.7 671.7 306.4 C672.8 311.1 673.1 312.5 673.6 317.0 C674.1 321.5 674.4 330.8 674.6 333.5 L672 344 L645 346 L641.7 340.5 C641.6 337.6 641.5 328.9 641.0 323.0 C640.5 317.1 640.0 310.8 638.8 305.0 C637.6 299.2 636.0 293.0 634.0 288.5 C632.0 284.0 629.2 282.7 627.0 278.0 C624.8 273.3 623.3 265.8 621.0 260.5 C618.7 255.2 616.9 251.7 613.0 246.4 C609.1 241.1 603.1 233.4 597.6 228.8 C592.1 224.2 586.9 222.0 580.0 218.8 C573.1 215.6 565.5 211.8 556.0 209.5 C546.5 207.2 534.0 205.5 523.0 205.0 C511.9 204.5 500.8 204.8 489.7 206.6 C478.6 208.4 466.7 213.0 456.4 215.7 C446.1 218.4 432.7 221.8 428.0 223.0Z" fill="url(#capG)"/>
<path d="M610.0 232.0 C613.3 235.8 624.2 247.0 630.0 255.0 C635.8 263.0 641.0 271.7 645.0 280.0 C649.0 288.3 652.0 298.0 654.0 305.0 C656.0 312.0 656.5 319.2 657.0 322.0" fill="none" stroke="#d5d9dd" stroke-width="1.6" stroke-linejoin="round" stroke-linecap="round" opacity="0.9"/>
<path d="M440.0 216.0 C445.0 214.7 460.0 210.5 470.0 208.0 C480.0 205.5 490.8 202.4 500.0 201.0 C509.2 199.6 515.8 199.2 525.0 199.5 C534.2 199.8 550.0 202.0 555.0 202.5" fill="none" stroke="#c6ccd2" stroke-width="3" stroke-linejoin="round" stroke-linecap="round" opacity="0.8"/>
<path d="M466.3 189.4 C470.2 189.1 480.6 188.0 490.0 187.5 C499.4 187.0 511.9 185.9 523.0 186.5 C534.1 187.1 545.3 188.6 556.4 191.3 C567.5 194.1 579.9 199.6 589.7 203.0 C599.5 206.4 607.1 207.0 615.3 211.5 C623.5 216.0 631.5 223.6 638.8 230.0 C646.0 236.4 653.5 243.5 658.8 250.0 C664.1 256.5 667.2 262.3 670.5 268.8 C673.8 275.3 676.7 282.5 678.7 288.8 C680.7 295.0 681.4 301.9 682.3 306.4 C683.2 310.9 683.7 314.4 684.0 316.0 L684.6 329 L675 329 L674.6 333.5 C674.4 330.8 674.1 321.5 673.6 317.0 C673.1 312.5 672.8 311.1 671.7 306.4 C670.6 301.7 669.1 294.6 667.0 288.8 C664.9 282.9 662.1 276.9 658.8 271.0 C655.5 265.1 652.6 260.3 647.0 253.5 C641.4 246.7 632.5 236.7 625.3 230.0 C618.0 223.3 611.0 217.8 603.5 213.5 C596.0 209.2 587.9 206.8 580.0 204.0 C572.1 201.2 565.5 198.6 556.0 196.8 C546.5 195.1 534.0 193.5 523.0 193.5 C511.9 193.5 500.8 194.2 489.7 196.6 C478.6 199.0 461.9 206.1 456.4 208.0 L440 188.6Z" fill="#f3f3f4"/>
<path d="M362.0 192.5 L379.4 188.5 L408.8 188.5 L444.0 190.0 L470.0 190.5 L489.7 196.6 L456.4 208.0 L440.0 212.5 L420.0 215.7 L412.3 216.4 L411.0 212.9 L406.4 209.4 L397.0 205.8 L385.2 197.6 L373.5 194.0Z" fill="#a9acb1"/>
<path d="M375.6 193.5 C380.0 193.4 392.9 193.0 402.2 192.9 C411.4 192.8 421.0 192.9 431.0 192.8 C440.9 192.7 452.8 191.9 462.0 192.2 C471.2 192.4 482.0 194.0 486.0 194.4" fill="none" stroke="#eeeeef" stroke-width="1.5" stroke-linejoin="round" stroke-linecap="round" opacity="0.95"/>
<path d="M381.0 194.9 C385.1 195.1 396.8 195.6 405.4 195.8 C414.0 196.0 423.0 196.4 432.4 196.2 C441.8 196.0 453.1 194.9 462.0 194.7 C470.9 194.5 482.0 194.9 486.0 194.9" fill="none" stroke="#8e9296" stroke-width="1.5" stroke-linejoin="round" stroke-linecap="round" opacity="0.95"/>
<path d="M386.4 196.3 C390.1 196.7 400.7 198.1 408.6 198.7 C416.5 199.2 424.9 199.9 433.8 199.6 C442.7 199.4 453.3 197.9 462.0 197.2 C470.7 196.5 482.0 195.7 486.0 195.4" fill="none" stroke="#ebebec" stroke-width="1.6" stroke-linejoin="round" stroke-linecap="round" opacity="0.95"/>
<path d="M391.8 197.8 C395.1 198.4 404.6 200.7 411.9 201.6 C419.1 202.4 426.9 203.3 435.3 203.0 C443.6 202.7 453.5 200.9 462.0 199.7 C470.5 198.6 482.0 196.6 486.0 196.0" fill="none" stroke="#979ba0" stroke-width="1.5" stroke-linejoin="round" stroke-linecap="round" opacity="0.95"/>
<path d="M397.2 199.2 C400.2 200.1 408.5 203.2 415.1 204.4 C421.7 205.6 428.9 206.8 436.7 206.5 C444.5 206.1 453.8 203.9 462.0 202.3 C470.2 200.6 482.0 197.5 486.0 196.5" fill="none" stroke="#ececed" stroke-width="1.4" stroke-linejoin="round" stroke-linecap="round" opacity="0.95"/>
<path d="M466.3 189.6 C462.6 189.6 453.6 189.6 444.0 189.4 C434.4 189.2 418.6 188.5 408.8 188.2 C398.9 187.9 391.5 187.5 385.0 187.8 C378.5 188.1 374.8 188.6 370.0 190.0 C365.2 191.4 358.8 195.0 356.5 196.0" fill="none" stroke="#0d0d0d" stroke-width="2.7" stroke-linejoin="round" stroke-linecap="round"/>
<path d="M364.0 194.0 C366.6 194.1 374.9 193.4 379.4 194.6 C383.9 195.8 387.1 198.9 391.0 201.0 C394.9 203.1 399.7 205.2 403.0 207.0 C406.3 208.8 409.3 210.3 411.0 211.7 C412.7 213.1 412.7 214.9 413.0 215.5" fill="none" stroke="#0d0d0d" stroke-width="2.3" stroke-linejoin="round" stroke-linecap="round"/>
<path d="M675.5 316.6 C684 315 686 321 684.8 325 C683.5 329.5 678 330.5 675 328.8" fill="#fff" stroke="#0d0d0d" stroke-width="1.5" stroke-linejoin="round" stroke-linecap="round"/>
<path d="M466.3 189.4 C470.2 189.1 480.6 188.0 490.0 187.5 C499.4 187.0 511.9 185.9 523.0 186.5 C534.1 187.1 545.3 188.6 556.4 191.3 C567.5 194.1 579.9 199.6 589.7 203.0 C599.5 206.4 607.1 207.0 615.3 211.5 C623.5 216.0 631.5 223.6 638.8 230.0 C646.0 236.4 653.5 243.5 658.8 250.0 C664.1 256.5 667.2 262.3 670.5 268.8 C673.8 275.3 676.7 282.5 678.7 288.8 C680.7 295.0 681.4 301.9 682.3 306.4 C683.2 310.9 683.7 314.4 684.0 316.0" fill="none" stroke="#0d0d0d" stroke-width="2.3" stroke-linejoin="round" stroke-linecap="round"/>
<path d="M420.0 215.7 C423.3 215.2 433.9 213.8 440.0 212.5 C446.1 211.2 448.1 210.7 456.4 208.0 C464.7 205.3 478.6 199.0 489.7 196.6 C500.8 194.2 511.9 193.5 523.0 193.5 C534.0 193.5 546.5 195.1 556.0 196.8 C565.5 198.6 572.1 201.2 580.0 204.0 C587.9 206.8 596.0 209.2 603.5 213.5 C611.0 217.8 618.0 223.3 625.3 230.0 C632.5 236.7 641.4 246.7 647.0 253.5 C652.6 260.3 655.5 265.1 658.8 271.0 C662.1 276.9 664.9 282.9 667.0 288.8 C669.1 294.6 670.6 301.7 671.7 306.4 C672.8 311.1 673.1 312.5 673.6 317.0 C674.1 321.5 674.4 330.8 674.6 333.5" fill="none" stroke="#0d0d0d" stroke-width="2.3" stroke-linejoin="round" stroke-linecap="round"/>
<path d="M411.6 217.4 C413.0 217.1 418.6 216.0 420.0 215.7" fill="none" stroke="#0d0d0d" stroke-width="1.6" stroke-linejoin="round" stroke-linecap="round"/>
<path d="M428.0 223.0 C432.7 221.8 446.1 218.4 456.4 215.7 C466.7 213.0 478.6 208.4 489.7 206.6 C500.8 204.8 511.9 204.5 523.0 205.0 C534.0 205.5 546.5 207.2 556.0 209.5 C565.5 211.8 573.1 215.6 580.0 218.8 C586.9 222.0 592.1 224.2 597.6 228.8 C603.1 233.4 609.1 241.1 613.0 246.4 C616.9 251.7 619.7 258.1 621.0 260.5" fill="none" stroke="#0d0d0d" stroke-width="1.8" stroke-linejoin="round" stroke-linecap="round"/>
<path d="M427.0 421.0 C425.9 419.9 423.4 417.6 420.7 414.2 C418.0 410.8 413.7 406.2 411.0 400.5 C408.3 394.8 405.6 386.3 404.3 380.0 C403.0 373.7 403.5 369.6 403.0 362.5 C402.5 355.4 401.1 344.9 401.2 337.5 C401.4 330.1 402.4 326.3 404.0 318.0 C405.6 309.7 407.1 297.4 411.1 287.6 C415.1 277.8 422.4 267.0 428.0 259.4 C433.6 251.8 438.9 246.8 444.6 241.8 C450.3 236.7 454.5 233.0 462.0 229.0 C469.5 225.0 479.5 220.4 489.7 218.0 C499.9 215.6 511.9 214.5 523.0 214.3 C534.0 214.1 546.5 215.2 556.0 217.0 C565.5 218.8 572.7 221.5 580.0 225.0 C587.3 228.5 594.5 234.0 600.0 238.0 C605.5 242.0 610.8 247.2 613.0 249.0" fill="none" stroke="#0d0d0d" stroke-width="2.0" stroke-linejoin="round" stroke-linecap="round"/>
<path d="M417.5 237.5 C416.9 238.2 416.1 238.1 414.0 241.8 C411.9 245.4 407.5 251.8 404.6 259.4 C401.7 267.0 398.6 277.8 396.4 287.6 C394.1 297.4 392.0 309.7 391.1 318.0 C390.2 326.3 390.8 329.7 391.2 337.5 C391.7 345.3 392.7 357.9 393.8 365.0 C394.8 372.1 395.6 374.1 397.4 380.0 C399.2 385.9 401.8 394.8 404.3 400.5 C406.8 406.2 410.6 409.6 412.5 414.2 C414.4 418.8 415.4 425.6 416.0 427.9" fill="none" stroke="#0d0d0d" stroke-width="1.9" stroke-linejoin="round" stroke-linecap="round"/>
<path d="M411.6 217.4 C411.1 217.6 410.3 216.8 408.8 218.8 C407.2 220.7 404.6 225.2 402.5 229.0 C400.4 232.8 398.9 236.7 396.4 241.8 C393.9 246.8 390.1 251.8 387.6 259.4 C385.1 267.0 382.9 277.8 381.2 287.6 C379.5 297.4 378.0 309.7 377.6 318.0 C377.2 326.3 377.5 330.1 378.8 337.5 C380.0 344.9 383.5 354.5 385.0 362.5 C386.5 370.5 387.1 380.4 388.0 385.5 C388.9 390.6 389.5 389.4 390.6 393.0 C391.7 396.6 392.4 402.5 394.7 407.4 C397.0 412.3 401.1 418.2 404.3 422.4 C407.5 426.6 412.3 431.0 413.9 432.7" fill="none" stroke="#0d0d0d" stroke-width="2.0" stroke-linejoin="round" stroke-linecap="round"/>
<path d="M411.6 217.4 C413.0 217.7 417.6 217.9 420.0 219.0 C422.4 220.1 424.6 222.0 426.0 224.0 C427.4 226.0 428.8 228.7 428.5 231.0 C428.2 233.3 425.8 236.9 424.0 238.0 C422.2 239.1 418.6 237.6 417.5 237.5" fill="none" stroke="#0d0d0d" stroke-width="1.8" stroke-linejoin="round" stroke-linecap="round"/>
<path d="M410.0 377.5 C409.6 372.9 407.2 359.9 407.5 350.0 C407.8 340.1 409.8 328.4 411.7 318.0 C413.6 307.6 414.7 297.4 418.8 287.6 C422.9 277.8 430.7 267.0 436.4 259.4 C442.1 251.8 447.2 246.4 452.8 241.8 C458.4 237.1 463.0 234.6 470.0 231.5 C477.0 228.4 485.8 224.9 495.0 223.0 C504.2 221.1 515.0 220.0 525.0 220.0 C535.0 220.0 545.8 221.0 555.0 223.0 C564.2 225.0 572.5 228.2 580.0 232.0 C587.5 235.8 594.2 241.4 600.0 246.0 C605.8 250.6 610.7 254.7 615.0 259.5 C619.3 264.3 622.8 270.2 626.0 275.0 C629.2 279.8 631.9 283.5 634.0 288.5 C636.1 293.5 637.6 299.2 638.8 305.0 C640.0 310.8 640.5 317.1 641.0 323.0 C641.5 328.9 641.8 334.7 641.7 340.5 C641.6 346.3 641.2 352.2 640.5 358.0 C639.8 363.8 638.5 370.2 637.5 375.0 C636.5 379.8 635.0 385.0 634.5 387.0" fill="none" stroke="#0d0d0d" stroke-width="2.7" stroke-linejoin="round" stroke-linecap="round"/>
<path d="M354.0 204.5 C355.3 203.3 358.5 199.3 361.8 197.6 C365.0 195.8 369.6 194.0 373.5 194.0 C377.4 194.0 381.3 195.6 385.2 197.6 C389.2 199.6 393.5 203.8 397.0 205.8 C400.5 207.8 404.1 208.2 406.4 209.4 C408.7 210.6 410.0 211.7 411.0 212.9 C412.0 214.1 412.1 215.8 412.3 216.4" fill="none" stroke="#0d0d0d" stroke-width="2.3" stroke-linejoin="round" stroke-linecap="round"/>
<path d="M466.3 184.0 C468.6 182.7 475.6 178.5 480.0 176.0 C484.4 173.5 487.2 171.3 493.0 169.0 C498.8 166.7 508.3 162.9 514.5 162.0 C520.7 161.1 522.2 162.6 530.0 163.5 C537.8 164.4 551.4 163.9 561.4 167.2 C571.4 170.4 581.1 177.3 589.7 183.0 C598.3 188.7 608.2 197.6 613.0 201.3 C617.8 205.0 617.7 203.7 618.5 205.0 C619.3 206.3 618.9 208.1 618.0 209.0 C617.1 209.9 613.8 210.3 613.0 210.6 L613.0 210.6 L589.7 203.0 L556.4 191.3 L523.0 186.5 L490.0 187.5 L466.3 189.4Z" fill="url(#burD)"/>
<path d="M466.3 184.0 C468.6 182.7 475.6 178.5 480.0 176.0 C484.4 173.5 487.2 171.3 493.0 169.0 C498.8 166.7 508.3 162.9 514.5 162.0 C520.7 161.1 522.2 162.6 530.0 163.5 C537.8 164.4 551.4 163.9 561.4 167.2 C571.4 170.4 581.1 177.3 589.7 183.0 C598.3 188.7 608.2 197.6 613.0 201.3 C617.8 205.0 617.6 204.4 618.5 205.0 L613.0 206.0 L590.0 193.0 L556.0 180.5 L520.0 176.4 L490.0 183.0 L468.0 187.0Z" fill="url(#burL)"/>
<path d="M466.3 184.0 C468.6 182.7 475.6 178.5 480.0 176.0 C484.4 173.5 487.2 171.3 493.0 169.0 C498.8 166.7 508.3 162.9 514.5 162.0 C520.7 161.1 522.2 162.6 530.0 163.5 C537.8 164.4 551.4 163.9 561.4 167.2 C571.4 170.4 581.1 177.3 589.7 183.0 C598.3 188.7 608.2 197.6 613.0 201.3 C617.8 205.0 617.7 203.7 618.5 205.0 C619.3 206.3 618.9 208.1 618.0 209.0 C617.1 209.9 613.8 210.3 613.0 210.6 L613.0 210.6 L589.7 203.0 L556.4 191.3 L523.0 186.5 L490.0 187.5 L466.3 189.4Z" fill="none" stroke="#2a2a2a" stroke-width="1.6" stroke-linejoin="round" stroke-linecap="round"/>
<path d="M563.0 165.6 C564.7 166.3 568.3 167.3 573.0 169.7 C577.7 172.0 586.9 177.8 591.3 179.7 C595.7 181.6 597.1 182.5 599.6 181.4 C602.1 180.3 604.2 176.6 606.3 173.0 C608.4 169.4 611.0 163.6 612.0 160.0 C613.0 156.4 613.0 153.9 612.0 151.5 C611.0 149.1 610.0 147.5 606.3 145.6 C602.6 143.7 592.5 140.8 589.7 139.8 L560 140Z" fill="#ddd6c8"/>
<path d="M563.0 165.6 C564.7 166.3 568.3 167.3 573.0 169.7 C577.7 172.0 586.9 177.8 591.3 179.7 C595.7 181.6 597.1 182.5 599.6 181.4 C602.1 180.3 604.2 176.6 606.3 173.0 C608.4 169.4 611.0 163.6 612.0 160.0 C613.0 156.4 613.0 153.9 612.0 151.5 C611.0 149.1 610.0 147.5 606.3 145.6 C602.6 143.7 592.5 140.8 589.7 139.8" fill="none" stroke="#0d0d0d" stroke-width="2.3" stroke-linejoin="round" stroke-linecap="round"/>
<path d="M480.0 144.4 C482.2 144.2 488.7 144.6 493.5 143.2 C498.3 141.8 504.3 138.1 508.8 136.2 C513.3 134.2 516.8 132.5 520.5 131.5 C524.2 130.5 527.3 130.1 531.0 130.3 C534.7 130.5 539.4 131.5 542.9 132.6 C546.4 133.7 549.3 135.8 552.0 137.0 C554.7 138.2 557.5 138.2 559.3 140.0 C561.1 141.8 561.6 146.2 563.0 148.0 C564.4 149.8 566.8 150.1 567.5 150.5 L567.5 161.4 C565.0 162.3 556.8 165.7 552.3 166.7 C547.8 167.7 544.4 167.7 540.5 167.3 C536.6 166.9 532.7 165.5 528.8 164.4 C524.9 163.3 520.3 162.2 517.0 160.8 C513.7 159.4 511.7 156.2 508.8 156.0 C505.9 155.8 504.2 158.9 499.4 159.7 C494.6 160.5 483.2 160.6 480.0 160.8Z" fill="#d6dce5" filter="url(#blur05)"/>
<path d="M481.5 145.7 C484.5 145.1 494.8 143.4 499.4 142.0 C503.9 140.7 505.9 138.9 508.8 137.8 C511.7 136.6 513.7 135.9 517.0 135.1 C520.3 134.4 524.9 133.3 528.8 133.3 C532.7 133.2 536.6 133.9 540.5 134.9 C544.4 136.0 548.0 136.8 552.3 139.5 C556.5 142.2 563.7 149.4 566.0 151.4" fill="none" stroke="#f7f8fa" stroke-width="1.9" stroke-linejoin="round" stroke-linecap="round" opacity="0.9" filter="url(#blur05)"/>
<path d="M481.5 147.4 C484.5 146.9 494.8 145.3 499.4 144.1 C503.9 142.8 505.9 140.9 508.8 139.9 C511.7 138.9 513.7 138.6 517.0 138.1 C520.3 137.6 524.9 136.7 528.8 136.8 C532.7 136.9 536.6 137.7 540.5 138.6 C544.4 139.6 548.0 140.3 552.3 142.6 C556.5 144.9 563.7 150.9 566.0 152.5" fill="none" stroke="#bcc6d1" stroke-width="1.2" stroke-linejoin="round" stroke-linecap="round" opacity="0.9" filter="url(#blur05)"/>
<path d="M481.5 149.2 C484.5 148.6 494.8 147.3 499.4 146.1 C503.9 144.9 505.9 142.8 508.8 141.9 C511.7 141.1 513.7 141.3 517.0 141.0 C520.3 140.7 524.9 140.1 528.8 140.4 C532.7 140.6 536.6 141.4 540.5 142.3 C544.4 143.2 548.0 143.8 552.3 145.7 C556.5 147.6 563.7 152.3 566.0 153.7" fill="none" stroke="#f7f8fa" stroke-width="1.9" stroke-linejoin="round" stroke-linecap="round" opacity="0.9" filter="url(#blur05)"/>
<path d="M481.5 150.9 C484.5 150.4 494.8 149.2 499.4 148.1 C503.9 146.9 505.9 144.7 508.8 144.0 C511.7 143.3 513.7 143.9 517.0 143.9 C520.3 143.9 524.9 143.6 528.8 143.9 C532.7 144.3 536.6 145.2 540.5 146.0 C544.4 146.8 548.0 147.3 552.3 148.8 C556.5 150.3 563.7 153.8 566.0 154.8" fill="none" stroke="#bcc6d1" stroke-width="1.2" stroke-linejoin="round" stroke-linecap="round" opacity="0.9" filter="url(#blur05)"/>
<path d="M481.5 152.6 C484.5 152.2 494.8 151.2 499.4 150.1 C503.9 149.0 505.9 146.6 508.8 146.1 C511.7 145.6 513.7 146.6 517.0 146.9 C520.3 147.1 524.9 147.0 528.8 147.5 C532.7 148.0 536.6 149.0 540.5 149.7 C544.4 150.5 548.0 150.9 552.3 151.9 C556.5 153.0 563.7 155.3 566.0 155.9" fill="none" stroke="#f7f8fa" stroke-width="1.9" stroke-linejoin="round" stroke-linecap="round" opacity="0.9" filter="url(#blur05)"/>
<path d="M481.5 154.3 C484.5 154.0 494.8 153.1 499.4 152.1 C503.9 151.1 505.9 148.6 508.8 148.2 C511.7 147.8 513.7 149.3 517.0 149.8 C520.3 150.3 524.9 150.4 528.8 151.0 C532.7 151.6 536.6 152.7 540.5 153.4 C544.4 154.1 548.0 154.4 552.3 155.0 C556.5 155.6 563.7 156.7 566.0 157.1" fill="none" stroke="#bcc6d1" stroke-width="1.2" stroke-linejoin="round" stroke-linecap="round" opacity="0.9" filter="url(#blur05)"/>
<path d="M481.5 156.0 C484.5 155.7 494.8 155.1 499.4 154.1 C503.9 153.2 505.9 150.5 508.8 150.3 C511.7 150.0 513.7 152.0 517.0 152.7 C520.3 153.4 524.9 153.9 528.8 154.6 C532.7 155.3 536.6 156.5 540.5 157.1 C544.4 157.7 548.0 157.9 552.3 158.1 C556.5 158.3 563.7 158.2 566.0 158.2" fill="none" stroke="#f7f8fa" stroke-width="1.9" stroke-linejoin="round" stroke-linecap="round" opacity="0.9" filter="url(#blur05)"/>
<path d="M481.5 157.8 C484.5 157.5 494.8 157.1 499.4 156.1 C503.9 155.2 505.9 152.4 508.8 152.3 C511.7 152.3 513.7 154.7 517.0 155.6 C520.3 156.6 524.9 157.3 528.8 158.1 C532.7 159.0 536.6 160.3 540.5 160.8 C544.4 161.3 548.0 161.5 552.3 161.2 C556.5 161.0 563.7 159.7 566.0 159.4" fill="none" stroke="#bcc6d1" stroke-width="1.2" stroke-linejoin="round" stroke-linecap="round" opacity="0.9" filter="url(#blur05)"/>
<path d="M481.5 159.5 C484.5 159.3 494.8 159.0 499.4 158.2 C503.9 157.3 505.9 154.3 508.8 154.4 C511.7 154.5 513.7 157.4 517.0 158.6 C520.3 159.8 524.9 160.7 528.8 161.7 C532.7 162.7 536.6 164.0 540.5 164.5 C544.4 164.9 548.0 165.0 552.3 164.3 C556.5 163.7 563.7 161.2 566.0 160.5" fill="none" stroke="#f7f8fa" stroke-width="1.9" stroke-linejoin="round" stroke-linecap="round" opacity="0.9" filter="url(#blur05)"/>
<path d="M493.5 143.2 C496.1 142.0 504.3 138.1 508.8 136.2 C513.3 134.2 516.8 132.5 520.5 131.5 C524.2 130.5 527.3 130.1 531.0 130.3 C534.7 130.5 540.9 132.2 542.9 132.6" fill="none" stroke="#0d0d0d" stroke-width="1.8" stroke-linejoin="round" stroke-linecap="round"/>
<path d="M508.8 156.0 C510.2 156.8 513.7 159.4 517.0 160.8 C520.3 162.2 524.9 163.3 528.8 164.4 C532.7 165.5 536.6 166.9 540.5 167.3 C544.4 167.7 550.3 166.8 552.3 166.7" fill="none" stroke="#2a2a2a" stroke-width="1.3" stroke-linejoin="round" stroke-linecap="round"/>
<path d="M650.5 342.0 C649.9 347.5 647.6 361.2 647.0 375.0 C646.4 388.8 647.2 408.3 647.0 425.0 C646.8 441.7 647.4 458.3 646.0 475.0 C644.6 491.7 642.7 505.0 638.5 525.0 C634.3 545.0 626.2 573.3 621.0 595.0 C615.8 616.7 610.7 636.7 607.0 655.0 C603.3 673.3 600.9 688.8 599.0 705.0 C597.1 721.2 596.1 744.2 595.5 752.0 L665.5 752.0 L669.0 715.0 L679.0 655.0 L683.5 595.0 L681.0 525.0 L671.5 460.0 L665.5 425.0 L661.0 375.0 L660.5 342.0Z" fill="url(#bicG)"/>
<path d="M651.1 475.0 C650.4 483.3 649.9 505.0 647.0 525.0 C644.1 545.0 637.8 573.3 633.5 595.0 C629.2 616.7 624.8 636.7 621.4 655.0 C618.0 673.3 615.0 688.8 613.0 705.0 C611.0 721.2 610.1 744.2 609.5 752.0" fill="none" stroke="#f3b9a7" stroke-width="2.5" stroke-linejoin="round" stroke-linecap="round" opacity="0.5" filter="url(#blur1)"/>
<path d="M656.2 475.0 C656.1 483.3 657.2 505.0 655.5 525.0 C653.8 545.0 649.3 573.3 646.0 595.0 C642.7 616.7 639.0 636.7 635.8 655.0 C632.6 673.3 629.0 688.8 627.0 705.0 C625.0 721.2 624.1 744.2 623.5 752.0" fill="none" stroke="#f3b9a7" stroke-width="2.5" stroke-linejoin="round" stroke-linecap="round" opacity="0.5" filter="url(#blur1)"/>
<path d="M661.3 475.0 C661.8 483.3 664.5 505.0 664.0 525.0 C663.5 545.0 660.8 573.3 658.5 595.0 C656.2 616.7 653.1 636.7 650.2 655.0 C647.3 673.3 643.1 688.8 641.0 705.0 C638.9 721.2 638.1 744.2 637.5 752.0" fill="none" stroke="#f3b9a7" stroke-width="2.5" stroke-linejoin="round" stroke-linecap="round" opacity="0.5" filter="url(#blur1)"/>
<path d="M666.4 475.0 C667.4 483.3 671.7 505.0 672.5 525.0 C673.3 545.0 672.3 573.3 671.0 595.0 C669.7 616.7 667.3 636.7 664.6 655.0 C661.9 673.3 657.2 688.8 655.0 705.0 C652.8 721.2 652.1 744.2 651.5 752.0" fill="none" stroke="#f3b9a7" stroke-width="2.5" stroke-linejoin="round" stroke-linecap="round" opacity="0.5" filter="url(#blur1)"/>
<path d="M648.5 475.0 C647.6 483.3 646.3 505.0 642.8 525.0 C639.2 545.0 632.0 573.3 627.2 595.0 C622.5 616.7 617.7 636.7 614.2 655.0 C610.7 673.3 608.0 688.8 606.0 705.0 C604.0 721.2 603.1 744.2 602.5 752.0" fill="none" stroke="url(#dkS)" stroke-width="2.2" stroke-linejoin="round" stroke-linecap="round" opacity="0.38" filter="url(#blur1)"/>
<path d="M653.6 475.0 C653.2 483.3 653.6 505.0 651.2 525.0 C648.9 545.0 643.5 573.3 639.8 595.0 C636.0 616.7 631.9 636.7 628.6 655.0 C625.3 673.3 622.0 688.8 620.0 705.0 C618.0 721.2 617.1 744.2 616.5 752.0" fill="none" stroke="url(#dkS)" stroke-width="2.2" stroke-linejoin="round" stroke-linecap="round" opacity="0.38" filter="url(#blur1)"/>
<path d="M658.8 475.0 C658.9 483.3 660.8 505.0 659.8 525.0 C658.7 545.0 655.0 573.3 652.2 595.0 C649.5 616.7 646.0 636.7 643.0 655.0 C640.0 673.3 636.1 688.8 634.0 705.0 C631.9 721.2 631.1 744.2 630.5 752.0" fill="none" stroke="url(#dkS)" stroke-width="2.2" stroke-linejoin="round" stroke-linecap="round" opacity="0.38" filter="url(#blur1)"/>
<path d="M663.9 475.0 C664.6 483.3 668.1 505.0 668.2 525.0 C668.4 545.0 666.6 573.3 664.8 595.0 C662.9 616.7 660.2 636.7 657.4 655.0 C654.6 673.3 650.1 688.8 648.0 705.0 C645.9 721.2 645.1 744.2 644.5 752.0" fill="none" stroke="url(#dkS)" stroke-width="2.2" stroke-linejoin="round" stroke-linecap="round" opacity="0.38" filter="url(#blur1)"/>
<path d="M669.0 475.0 C670.2 483.3 675.4 505.0 676.8 525.0 C678.1 545.0 678.1 573.3 677.2 595.0 C676.4 616.7 674.3 636.7 671.8 655.0 C669.3 673.3 664.2 688.8 662.0 705.0 C659.8 721.2 659.1 744.2 658.5 752.0" fill="none" stroke="url(#dkS)" stroke-width="2.2" stroke-linejoin="round" stroke-linecap="round" opacity="0.38" filter="url(#blur1)"/>
<path d="M653.0 342.0 C652.6 347.5 650.7 361.2 650.5 375.0 C650.3 388.8 651.3 408.3 651.6 425.0 C651.9 441.7 652.2 466.7 652.4 475.0" fill="none" stroke="#c3ccd6" stroke-width="1.6" stroke-linejoin="round" stroke-linecap="round" opacity="0.8" filter="url(#blur05)"/>
<path d="M656.0 342.0 C655.8 347.5 654.5 361.2 654.7 375.0 C654.9 388.8 656.3 408.3 657.2 425.0 C658.1 441.7 659.5 466.7 660.0 475.0" fill="none" stroke="#ffffff" stroke-width="1.6" stroke-linejoin="round" stroke-linecap="round" opacity="0.8" filter="url(#blur05)"/>
<path d="M658.5 342.0 C658.5 347.5 657.7 361.2 658.2 375.0 C658.8 388.8 660.4 408.3 661.8 425.0 C663.2 441.7 665.6 466.7 666.4 475.0" fill="none" stroke="#c3ccd6" stroke-width="1.6" stroke-linejoin="round" stroke-linecap="round" opacity="0.8" filter="url(#blur05)"/>
<path d="M650.5 342.0 C649.9 347.5 647.6 361.2 647.0 375.0 C646.4 388.8 647.2 408.3 647.0 425.0 C646.8 441.7 647.4 458.3 646.0 475.0 C644.6 491.7 642.7 505.0 638.5 525.0 C634.3 545.0 626.2 573.3 621.0 595.0 C615.8 616.7 610.7 636.7 607.0 655.0 C603.3 673.3 600.9 688.8 599.0 705.0 C597.1 721.2 596.1 744.2 595.5 752.0" fill="none" stroke="url(#lineFade2)" stroke-width="2.6" stroke-linejoin="round" stroke-linecap="round"/>
<path d="M660.5 342.0 C660.6 347.5 660.2 361.2 661.0 375.0 C661.8 388.8 663.8 410.8 665.5 425.0 C667.2 439.2 668.9 443.3 671.5 460.0 C674.1 476.7 679.0 502.5 681.0 525.0 C683.0 547.5 683.8 573.3 683.5 595.0 C683.2 616.7 681.4 635.0 679.0 655.0 C676.6 675.0 671.2 698.8 669.0 715.0 C666.8 731.2 666.1 745.8 665.5 752.0" fill="none" stroke="url(#lineFade2)" stroke-width="2.6" stroke-linejoin="round" stroke-linecap="round"/>
<path d="M657.6 312.5 C659.9 312.3 662.9 314.6 665.0 317.0 C667.1 319.4 669.2 323.5 670.5 327.0 C671.8 330.5 672.8 334.8 672.8 338.0 C672.8 341.2 672.6 343.9 670.5 346.0 C668.4 348.1 663.4 350.4 660.0 350.8 C656.6 351.2 652.5 350.1 650.0 348.5 C647.5 346.9 645.6 344.4 645.0 341.0 C644.4 337.6 645.5 331.8 646.5 328.0 C647.5 324.2 649.1 320.6 651.0 318.0 C652.9 315.4 655.3 312.7 657.6 312.5Z" fill="#3a3a3c"/>
<path d="M657.6 315.2 C659.4 315.0 661.7 316.9 663.5 319.0 C665.3 321.1 667.2 324.8 668.3 328.0 C669.4 331.2 670.2 335.3 670.2 338.0 C670.2 340.7 670.2 342.6 668.5 344.3 C666.8 346.0 662.7 348.0 659.8 348.3 C656.9 348.6 653.3 347.6 651.3 346.3 C649.3 345.0 648.0 343.4 647.6 340.5 C647.2 337.6 648.1 332.4 649.0 329.0 C649.9 325.6 651.3 322.3 652.7 320.0 C654.1 317.7 655.8 315.4 657.6 315.2Z" fill="#f6b651"/>
<path d="M657.6 317.2 C659.0 317.0 661.0 318.5 662.5 320.5 C664.0 322.5 665.6 326.2 666.6 329.0 C667.6 331.8 668.6 336.0 668.2 337.5 C667.8 339.0 665.9 338.5 664.0 338.2 C662.1 337.9 659.2 335.6 657.0 335.8 C654.8 336.0 651.7 339.1 650.5 339.5 C649.3 339.9 649.5 339.7 649.6 338.0 C649.7 336.3 650.3 332.2 651.0 329.5 C651.7 326.8 652.9 323.6 654.0 321.5 C655.1 319.4 656.2 317.4 657.6 317.2Z" fill="#d98b6e"/>
<path d="M648.2 341.3 C648.8 340.7 650.5 338.4 652.0 337.6 C653.5 336.8 655.2 336.2 657.0 336.6 C658.8 337.0 660.8 339.5 663.0 340.0 C665.2 340.5 668.8 339.7 670.0 339.6 L668.5 344.3 C667.0 345.0 662.7 348.0 659.8 348.3 C656.9 348.6 653.3 347.6 651.3 346.3 C649.3 345.0 648.2 341.5 647.6 340.5Z" fill="#46474b"/>
<path d="M649.6 342.6 C650.1 343.0 650.9 344.3 652.6 345.0 C654.3 345.7 657.4 347.1 659.8 346.9 C662.2 346.7 665.3 344.7 666.8 343.8 C668.3 342.9 668.5 341.8 668.8 341.4" fill="none" stroke="#f3b24f" stroke-width="1.1" stroke-linejoin="round" stroke-linecap="round"/>
<path d="M648.2 341.3 C648.8 340.7 650.5 338.4 652.0 337.6 C653.5 336.8 655.2 336.2 657.0 336.6 C658.8 337.0 660.8 339.5 663.0 340.0 C665.2 340.5 668.8 339.7 670.0 339.6" fill="none" stroke="#3a3d42" stroke-width="2.6" stroke-linejoin="round" stroke-linecap="round"/>
<path d="M651.2 342.5 C654 340 659 340 661.3 343 L661 352 L650.5 352Z" fill="#d5d9de"/>
<rect x="200" y="120" width="84" height="275" fill="url(#fadeL)"/>
<rect x="380" y="640" width="216" height="109" fill="url(#fadeB)"/>
<rect x="596" y="640" width="104" height="109" fill="url(#fadeB2)"/>
<path d="M242.5 11.3 C249.6 13.2 270.4 19.1 285.0 23.0 C299.6 26.9 314.2 30.5 330.0 35.0 C345.8 39.5 364.2 44.8 380.0 50.0 C395.8 55.2 413.3 62.2 425.0 66.0 C436.7 69.8 439.8 71.2 450.0 73.0 C460.2 74.8 474.3 75.2 486.0 77.0 C497.7 78.8 509.8 81.2 520.0 84.0 C530.2 86.8 537.8 90.2 547.0 94.0 C556.2 97.8 565.2 101.6 575.0 106.5 C584.8 111.4 596.7 118.2 606.0 123.5 C615.3 128.8 622.0 131.9 631.0 138.0 C640.0 144.1 651.0 151.8 660.0 160.0 C669.0 168.2 678.0 178.3 685.0 187.0 C692.0 195.7 697.2 202.3 702.0 212.0 C706.8 221.7 710.7 233.7 714.0 245.0 C717.3 256.3 719.8 266.7 722.0 280.0 C724.2 293.3 726.0 311.7 727.0 325.0 C728.0 338.3 728.0 348.3 728.0 360.0 C728.0 371.7 727.6 384.2 727.0 395.0 C726.4 405.8 725.8 417.8 724.5 425.0 C723.2 432.2 720.9 434.2 719.0 438.0 C717.1 441.8 714.0 445.9 713.0 447.5 C713.5 450.4 715.2 458.8 716.0 465.0 C716.8 471.2 717.2 474.2 718.0 485.0 C718.8 495.8 720.3 515.0 721.0 530.0 C721.7 545.0 721.8 556.7 722.0 575.0 C722.2 593.3 722.2 619.2 722.0 640.0 C721.8 660.8 721.5 682.5 721.0 700.0 C720.5 717.5 719.3 737.5 719.0 745.0" fill="none" stroke="url(#lineFade2)" stroke-width="4.3" stroke-linejoin="miter" stroke-miterlimit="6"/>
<path d="M242.5 11.3 L268 18.3" fill="none" stroke="url(#skinG)" stroke-width="4.3"/>
<path d="M408.2 526.6 C407.1 533.2 403.2 548.8 401.6 566.5 C400.0 584.2 399.1 610.8 398.3 633.0 C397.5 655.2 397.0 679.7 396.6 699.5 C396.2 719.3 396.1 743.2 396.0 752.0" fill="none" stroke="url(#vL)" stroke-width="4.5" stroke-linejoin="round" stroke-linecap="round"/>
<path d="M408.2 526.6 C408.8 533.2 409.9 548.8 411.6 566.5 C413.3 584.2 416.0 613.0 418.2 633.0 C420.4 653.0 423.2 670.0 424.9 686.2 C426.6 702.4 427.9 722.7 428.5 730.0" fill="none" stroke="url(#vR)" stroke-width="4.3" stroke-linejoin="round" stroke-linecap="round"/>
<g class="ld">
<line x1="109" y1="40" x2="353.5" y2="135"/>
<line x1="136" y1="107.5" x2="407.5" y2="177.5"/>
<line x1="205" y1="225" x2="419" y2="225"/>
<line x1="190" y1="288.4" x2="402.5" y2="288.4"/>
<line x1="113.5" y1="362.8" x2="341" y2="333.6"/>
<line x1="227.5" y1="432.3" x2="383" y2="337"/>
<line x1="227.5" y1="432.3" x2="406" y2="376"/>
<line x1="280" y1="535" x2="414" y2="461"/>
<line x1="269" y1="567.6" x2="417.5" y2="475"/>
<line x1="632" y1="38" x2="420" y2="139.5"/>
<line x1="707" y1="100" x2="601" y2="148.5"/>
<line x1="777" y1="187" x2="549" y2="155"/>
<line x1="777" y1="258" x2="565" y2="179.5"/>
<line x1="684" y1="318" x2="777.5" y2="318"/>
<line x1="675" y1="337.5" x2="777.5" y2="369.5"/>
<line x1="654.5" y1="381" x2="777" y2="421"/>
<line x1="535" y1="324.5" x2="777" y2="539"/>
<line x1="524.5" y1="599" x2="777" y2="599"/>
</g>
<g>
<text x="5" y="49">Clavicle</text>
<text x="5" y="116">Tendon of</text>
<text x="5" y="149">supraspinatus</text>
<text x="5" y="182">muscle</text>
<text x="5" y="232.3">Glenoid labrum</text>
<text x="5" y="296">Glenoid cavity</text>
<text x="5" y="368.6">Scapula</text>
<text x="5" y="440.2">Articular cartilage</text>
<text x="5" y="508.2" class="b">Articular capsule:</text>
<text x="23.5" y="541.3">Synovial membrane</text>
<text x="23.5" y="575.2">Fibrous membrane</text>
<text x="638" y="45.6">Acromioclavicular ligament</text>
<text x="718.5" y="109.2">Acromion of scapula</text>
<text x="787" y="196">Coracoacromial</text>
<text x="787" y="229">ligament</text>
<text x="787" y="272">Subacromial bursa</text>
<text x="787" y="326">Articular capsule</text>
<text x="787" y="377">Tendon sheath</text>
<text x="787" y="430">Tendon of biceps</text>
<text x="787" y="464">brachii muscles</text>
<text x="787" y="498">(long heed)</text>
<text x="787" y="556">Head of humerus</text>
<text x="787" y="607">Humerus</text>
</g>
</svg>
</body>
</html>
